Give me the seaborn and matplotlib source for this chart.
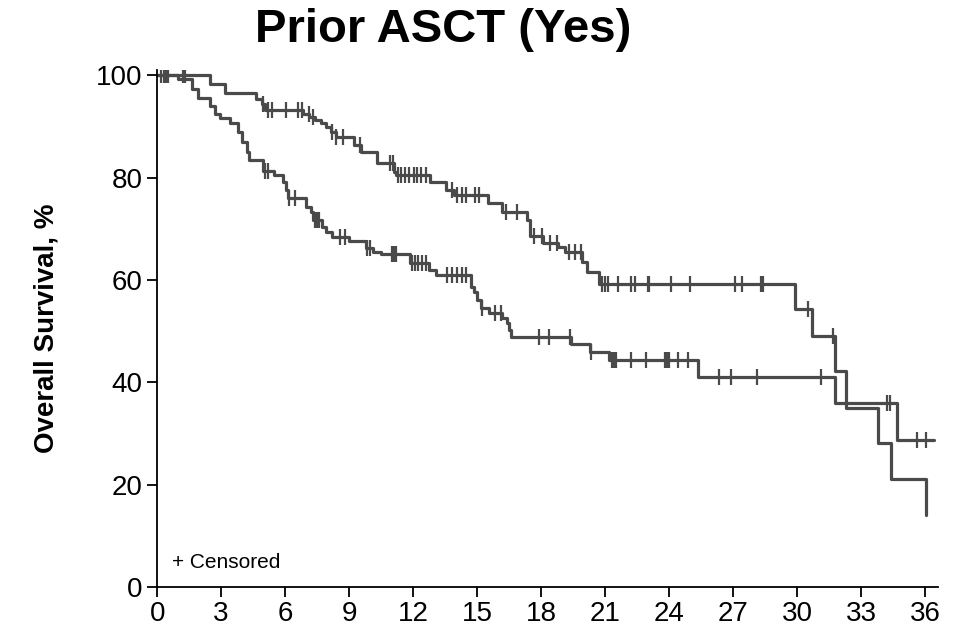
import numpy as np
import pandas as pd
import matplotlib
matplotlib.use('Agg')
import matplotlib.pyplot as plt
import seaborn as sns

# step curve for the upper arm (time in months, survival % after each step)
a_time = [0, 2.5, 3.2, 4.65, 4.9, 5.05, 6.83, 7.14, 7.38, 7.69, 7.92, 8.16, 8.39,
          9.24, 9.56, 10.3, 11.1, 11.2, 12.8, 13.55, 13.9, 15.5, 16.15, 17.35,
          17.5, 18.1, 18.8, 19.1, 19.9, 20.15, 20.7, 29.9, 30.7, 31.75, 32.3,
          33.8, 34.4, 36.05]
a_surv = [100, 98.3, 96.6, 95.4, 94.4, 93.2, 92.5, 91.9, 91.2, 90.6, 89.9, 88.9, 87.9,
          86.3, 85.0, 82.8, 81.1, 80.5, 79.2, 77.5, 76.6, 75.0, 73.3, 71.7,
          68.6, 67.3, 66.5, 65.5, 63.5, 61.5, 59.3, 54.4, 49.0, 42.2, 34.9,
          28.2, 21.1, 14.1]
a_cens = [0.2, 0.4, 1.2, 1.3, 4.95, 5.2, 5.4, 6.05, 6.6, 6.8, 7.1, 7.3, 8.2, 8.4,
          8.7, 9.5, 10.9, 11.05, 11.3, 11.45, 11.6, 11.8, 12.05, 12.2, 12.35,
          12.6, 13.8, 14.05, 14.3, 14.5, 14.9, 15.1, 16.35, 16.85, 17.65, 18.05,
          18.4, 18.75, 19.3, 19.6, 19.85, 20.85, 21.0, 21.15, 21.6, 22.2, 22.4,
          23.0, 23.05, 24.1, 25.0, 27.1, 27.4, 28.3, 28.4, 30.5, 31.7]

# step curve for the lower arm
b_time = [0, 1.0, 1.65, 1.9, 2.5, 2.7, 2.95, 3.4, 3.8, 4.0, 4.2, 4.3, 4.95, 5.5,
          5.9, 6.05, 6.12, 7.0, 7.2, 7.3, 7.75, 7.9, 8.2, 9.0, 9.8, 10.1, 10.5,
          11.85, 12.75, 13.05, 14.7, 14.85, 15.0, 15.2, 15.55, 16.15, 16.4, 16.5,
          16.6, 19.4, 20.3, 21.2, 25.35, 31.75, 34.7, 36.4]
b_surv = [100, 99.2, 97.4, 95.5, 94.1, 92.5, 91.6, 90.6, 88.9, 86.9, 85.0, 83.4, 81.4,
          80.5, 79.1, 77.5, 76.1, 74.2, 73.2, 71.7, 70.3, 69.3, 68.4, 67.6, 66.3,
          65.5, 65.0, 63.3, 61.9, 60.9, 58.6, 57.7, 56.1, 54.5, 53.5, 52.5, 51.5,
          50.2, 48.9, 47.5, 46.0, 44.3, 41.1, 36.0, 28.7, 28.7]
b_cens = [0.3, 0.5, 5.05, 5.2, 6.2, 6.45, 7.4, 7.5, 7.6, 8.55, 8.8, 9.85, 10.0,
          11.0, 11.1, 11.2, 11.95, 12.1, 12.25, 12.4, 12.6, 13.6, 13.8, 14.05,
          14.3, 14.5, 15.25, 15.85, 16.1, 17.9, 18.35, 19.35, 20.35, 21.3, 21.4,
          21.5, 22.2, 22.9, 23.8, 23.9, 24.0, 24.4, 24.9, 26.35, 26.9, 28.1, 31.1,
          34.2, 34.35, 35.6, 36.05]

x_ticks = list(range(0, 37, 3))
y_ticks = [0, 20, 40, 60, 80, 100]

line_col = '#4a4a4a'

sns.set_style('ticks')
plt.rcParams['font.family'] = ['Liberation Sans', 'DejaVu Sans']
plt.rcParams['text.color'] = 'black'
plt.rcParams['axes.labelcolor'] = 'black'
plt.rcParams['xtick.color'] = 'black'
plt.rcParams['ytick.color'] = 'black'

fig = plt.figure(figsize=(9.64, 6.33), dpi=100)
ax = fig.add_axes([0.163, 0.073, 0.81, 0.816])


def cens_y(times, surv, cens):
    idx = np.searchsorted(times, cens, side='right') - 1
    return np.array(surv)[idx]


for t, s, c in [(a_time, a_surv, a_cens), (b_time, b_surv, b_cens)]:
    df = pd.DataFrame({'t': t, 's': s})
    sns.lineplot(data=df, x='t', y='s', drawstyle='steps-post', estimator=None,
                 color=line_col, linewidth=2.3, ax=ax, sort=False)
    ax.plot(c, cens_y(t, s, c), linestyle='none', marker='|', markersize=11,
            markeredgewidth=1.6, color=line_col)

ax.set_xlim(0, 36.6)
ax.set_ylim(0, 101)
ax.set_xticks(x_ticks)
ax.set_yticks(y_ticks)
ax.tick_params(labelsize=20, length=7, width=1.3, color='black', labelcolor='black')
ax.set_xlabel('')
ax.set_ylabel('Overall Survival, %', fontsize=20, fontweight='bold', labelpad=26)
for sp in ['left', 'bottom']:
    ax.spines[sp].set_linewidth(1.3)
    ax.spines[sp].set_color('black')
sns.despine(ax=ax)

ax.text(0.7, 4.8, '+ Censored', fontsize=15, va='center', ha='left')
fig.text(0.46, 0.952, 'Prior ASCT (Yes)', fontsize=34, fontweight='bold',
         ha='center', va='center')

fig.savefig('out.png', dpi=100)
